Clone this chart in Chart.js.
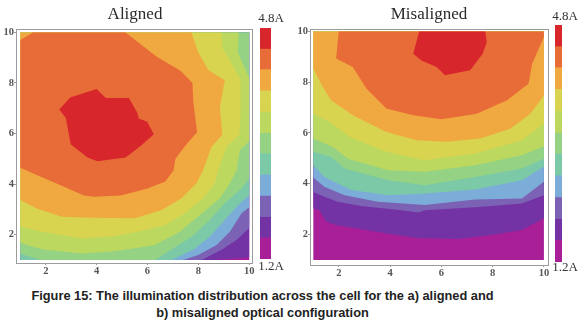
<!DOCTYPE html>
<html>
<head>
<meta charset="utf-8">
<title>Figure 15</title>
<script src="https://cdn.jsdelivr.net/npm/chart.js@4"></script>
<style>
  html, body { margin: 0; padding: 0; background: #fff; width: 580px; height: 323px; overflow: hidden; }
  .box { position: absolute; }
  .box canvas { filter: blur(0.5px); }
  #caption {
    position: absolute; left: 0; top: 287px; width: 525px; text-align: center;
    font: bold 12.8px/17px "Liberation Sans", Arial, sans-serif; color: #222;
  }
</style>
</head>
<body>
<div class="box" style="left:0;top:0;width:270px;height:284px"><canvas id="aligned"></canvas></div>
<div class="box" style="left:255px;top:0;width:32px;height:284px"><canvas id="alignedBar"></canvas></div>
<div class="box" style="left:294px;top:0;width:270px;height:284px"><canvas id="misaligned"></canvas></div>
<div class="box" style="left:550px;top:0;width:30px;height:284px"><canvas id="misalignedBar"></canvas></div>
<div id="caption">Figure 15: The illumination distribution across the cell for the a) aligned and<br>b) misaligned optical configuration</div>

<script>
// tick labels and colour scale
const tickValues = [2, 4, 6, 8, 10];
const scaleEdges = [1.2, 1.53, 1.85, 2.18, 2.51, 2.84, 3.16, 3.49, 3.82, 4.15, 4.47, 4.8];
const bandColors = ["#a81f98", "#7433a4", "#7b62b4", "#7cacd8", "#7cc9a8", "#95d284",
                    "#bdd85f", "#d9d450", "#f0a841", "#e86c37", "#d8262d"];

// Aligned: outline of the region at or above each band
const aMagenta = [[1,1],[10,1],[10,10],[1,10]];
const aViolet = [[1,10],[10,10],[10,1.1],[9.2,1.04],[8.6,1],[1,1]];
const aPeri = [[1,10],[10,10],[10,2.26],[9.5,1.79],[8.91,1.4],[8.13,1],[1,1]];
const aBlue = [[1,10],[10,10],[10,3.09],[9.7,2.85],[9.24,2.12],[8.72,1.59],[8,1.2],[7.4,1],[1,1]];
const aTeal = [[1,10],[10,10],[10,3.57],[9.57,3.17],[9.04,2.58],[8.45,1.92],[7.8,1.4],[6.95,1],[1,1]];
const aGreen = [[1,10],[10,10],[10,4.24],[9.7,3.83],[9.04,3.24],[8.45,2.58],[7.74,1.92],[6.82,1.33],[6.3,1],[1.8,1],[1,1.25]];
const aLime = [[1,10],[9.59,10],[9.55,9.22],[10,8.19],[10,5.7],[9.63,5.35],[9.51,4.56],[9.24,4.03],[8.85,3.44],[8.06,2.78],
               [7.27,2.12],[6.29,1.59],[5.51,1.46],[4.59,1.33],[3.41,1.26],[1.84,1.42],[1,1.68]];
const aYellow = [[1,10],[8.91,10],[8.95,9.37],[9.31,8.77],[9.66,8.11],[9.66,6.8],[9.61,5.94],[9.11,5.48],[8.78,4.56],[8.65,4.03],
                 [8.19,3.44],[7.47,2.85],[6.69,2.38],[5.51,2.1],[4.72,1.95],[3.41,1.85],[1.84,2.12],[1,2.32]];
const aOrange = [[1,10],[7.73,10],[7.99,9.23],[8.39,8.51],[9.04,8.11],[8.85,7.06],[8.94,5.94],[8.52,5.48],[8.19,4.56],[7.93,4.03],
                 [7.34,3.44],[6.56,2.98],[5.51,2.65],[3.81,2.67],[2.63,2.71],[1.64,3.04],[1,3.37]];
const aScarlet = [[1,9.7],[1.5,10],[5.14,10],[6.35,9.05],[7.3,8.48],[7.77,8],[7.8,7.3],[7.95,6.05],[7.55,5.6],[7.1,5],[7.03,4.55],
                  [6.7,4.1],[6,3.83],[4.95,3.55],[3.9,3.5],[3.5,3.55],[2.47,4],[1.67,4.35],[1,4.65]];
const aRed = [[2.53,6.95],[2.96,7.43],[3.51,7.6],[4,7.76],[4.36,7.41],[5.27,7.41],[5.6,6.82],[5.66,6.6],[5.99,6.47],[6.25,5.97],
              [5.73,5.51],[5.14,5.05],[4.03,4.9],[3.64,5.05],[2.98,5.58],[2.79,6.62]];

// Misaligned
const mMagenta = [[1,1],[10,1],[10,10],[1,10]];
const mViolet = [[1,10],[10,10],[10,2.63],[9.14,2.18],[7.97,1.98],[6.66,1.82],[5.35,1.85],[5.09,1.85],[3.98,2.02],[2.48,2.28],[1.89,2.37],[1.5,2.5],[1.24,2.96],[1,3.03]];
const mPeri = [[1,10],[10,10],[10,3.55],[9.14,3.22],[7.31,3.07],[5.35,2.96],[5.09,2.87],[4.44,2.96],[2.87,3.12],[1.95,3.29],[1.43,3.49],[1,3.68]];
const mBlue = [[1,10],[10,10],[10,4.08],[9.14,3.42],[7.31,3.38],[5.35,3.16],[3.52,3.29],[2.22,3.55],[1.43,3.88],[1,4.25]];
const mTeal = [[1,10],[10,10],[10,4.67],[9.14,4.14],[7.31,3.77],[5.35,3.62],[3.92,3.55],[2.48,3.75],[1.43,4.27],[1,4.73]];
const mGreen = [[1,10],[10,10],[10,4.99],[9.14,4.6],[7.31,4.27],[5.35,3.94],[3.92,4.14],[2.22,4.6],[1.69,5.06],[1,5.26]];
const mLime = [[1,10],[10,10],[10,5.48],[9.14,5.12],[7.31,4.73],[5.35,4.47],[3.92,4.53],[2.35,4.99],[1.76,5.45],[1,5.78]];
const mYellow = [[1,10],[10,10],[10,6.37],[9.14,5.71],[7.31,5.19],[5.35,4.93],[3.85,5.26],[2.41,5.85],[1.63,6.44],[1,6.76]];
const mOrange = [[1,10],[10,10],[10,7.48],[9.47,6.76],[8.69,6.17],[7.51,5.78],[6.2,5.65],[5.03,5.71],[3.85,6.04],[2.54,6.7],[1.69,7.29],[1.37,7.81],[1,8.53]];
const mScarlet = [[1.99,10],[1.89,8.93],[2.54,8.6],[3.07,7.75],[3.85,6.96],[4.9,6.7],[6.01,6.54],[7.38,6.76],[8.56,7.29],[9.4,7.94],[9.54,8.73],[10,9.78],[10,10]];
const mRed = [[5.13,10],[4.9,9.12],[5.22,8.86],[5.81,8.6],[6.14,8.27],[7.12,8.47],[7.61,9.12],[7.77,9.58],[7.71,10]];

const alignedBands = [aMagenta, aViolet, aPeri, aBlue, aTeal, aGreen, aLime, aYellow, aOrange, aScarlet, aRed];
const misalignedBands = [mMagenta, mViolet, mPeri, mBlue, mTeal, mGreen, mLime, mYellow, mOrange, mScarlet, mRed];

// thin grey frame round the plot
const framePlugin = {
  id: "frame",
  afterDraw(chart) {
    const a = chart.chartArea;
    const ctx = chart.ctx;
    ctx.save();
    ctx.strokeStyle = "#9c9c9c";
    ctx.lineWidth = 1;
    ctx.strokeRect(Math.round(a.left) + 0.5, Math.round(a.top) + 0.5, Math.round(a.width), Math.round(a.height));
    ctx.restore();
  }
};

function makePanel(id, titleText, bands, range, sizes) {
  const ctx = document.getElementById(id).getContext("2d");
  // highest band is painted last, through order
  const datasets = bands.map((band, i) => ({
    data: band.map(p => ({ x: p[0], y: p[1] })),
    showLine: true,
    fill: "shape",
    tension: 0,
    borderWidth: 0,
    pointRadius: 0,
    backgroundColor: bandColors[i],
    order: bands.length - i
  }));
  const axisFont = { family: "'Liberation Serif', serif", size: 10.5, weight: "bold" };
  const hidden = { display: false };
  return new Chart(ctx, {
    type: "scatter",
    data: { datasets },
    options: {
      responsive: true,
      maintainAspectRatio: false,
      animation: false,
      plugins: {
        legend: { display: false },
        tooltip: { enabled: false },
        title: {
          display: true,
          text: titleText,
          color: "#2a2a2a",
          font: { family: "'Liberation Serif', serif", size: 17, weight: "normal" },
          padding: { top: 4, bottom: sizes.titleGap }
        }
      },
      scales: {
        x: {
          min: range.xMin, max: range.xMax,
          afterBuildTicks: s => { s.ticks = tickValues.map(v => ({ value: v })); },
          afterFit: s => { s.height = sizes.bottom; },
          grid: { drawOnChartArea: false, tickLength: 2, color: "#999" },
          border: { display: false },
          ticks: { color: "#555", font: axisFont, padding: 0, maxRotation: 0 }
        },
        y: {
          min: range.yMin, max: range.yMax,
          afterBuildTicks: s => { s.ticks = tickValues.map(v => ({ value: v })); },
          afterFit: s => { s.width = 16; },
          grid: { drawOnChartArea: false, tickLength: 2, color: "#999" },
          border: { display: false },
          ticks: { color: "#555", font: axisFont, padding: 0 }
        },
        // empty axis, keeps the title centred over the panel and its colour bar
        yRight: {
          position: "right",
          ticks: hidden, grid: hidden, border: hidden,
          afterFit: s => { s.width = sizes.right; }
        }
      }
    },
    plugins: [framePlugin]
  });
}

function makeBar(id, pad, left, right) {
  const ctx = document.getElementById(id).getContext("2d");
  const datasets = bandColors.map((c, i) => ({
    data: [[scaleEdges[i], scaleEdges[i + 1]]],
    backgroundColor: c,
    barPercentage: 1,
    categoryPercentage: 1,
    grouped: false
  }));
  const labelFont = { family: "'Liberation Serif', serif", size: 13, weight: "normal" };
  const hidden = { display: false };
  return new Chart(ctx, {
    type: "bar",
    data: { labels: [""], datasets },
    options: {
      responsive: true,
      maintainAspectRatio: false,
      animation: false,
      plugins: {
        legend: { display: false },
        tooltip: { enabled: false },
        title: { display: true, text: "4.8A", color: "#333", font: labelFont, padding: pad.top },
        subtitle: { display: true, position: "bottom", text: "1.2A", color: "#333", font: labelFont, padding: pad.bottom }
      },
      scales: {
        x: { display: false },
        y: {
          min: scaleEdges[0], max: scaleEdges[scaleEdges.length - 1],
          ticks: hidden, grid: hidden, border: hidden,
          afterFit: s => { s.width = left; }
        },
        yRight: {
          position: "right",
          ticks: hidden, grid: hidden, border: hidden,
          afterFit: s => { s.width = right; }
        }
      }
    }
  });
}

makePanel("aligned", "Aligned", alignedBands,
  { xMin: 0.83, xMax: 10.11, yMin: 0.88, yMax: 10.12 }, { titleGap: 5, bottom: 21, right: 18 });
makePanel("misaligned", "Misaligned", misalignedBands,
  { xMin: 0.87, xMax: 10.14, yMin: 0.80, yMax: 10.1 }, { titleGap: 4.5, bottom: 19, right: 16.5 });
makeBar("alignedBar", { top: { top: 11, bottom: 1.4 }, bottom: { top: 0.2, bottom: 9.2 } }, 5, 16);
makeBar("misalignedBar", { top: { top: 9, bottom: 0.4 }, bottom: { top: -2, bottom: 8.4 } }, 5, 18);
</script>
</body>
</html>
